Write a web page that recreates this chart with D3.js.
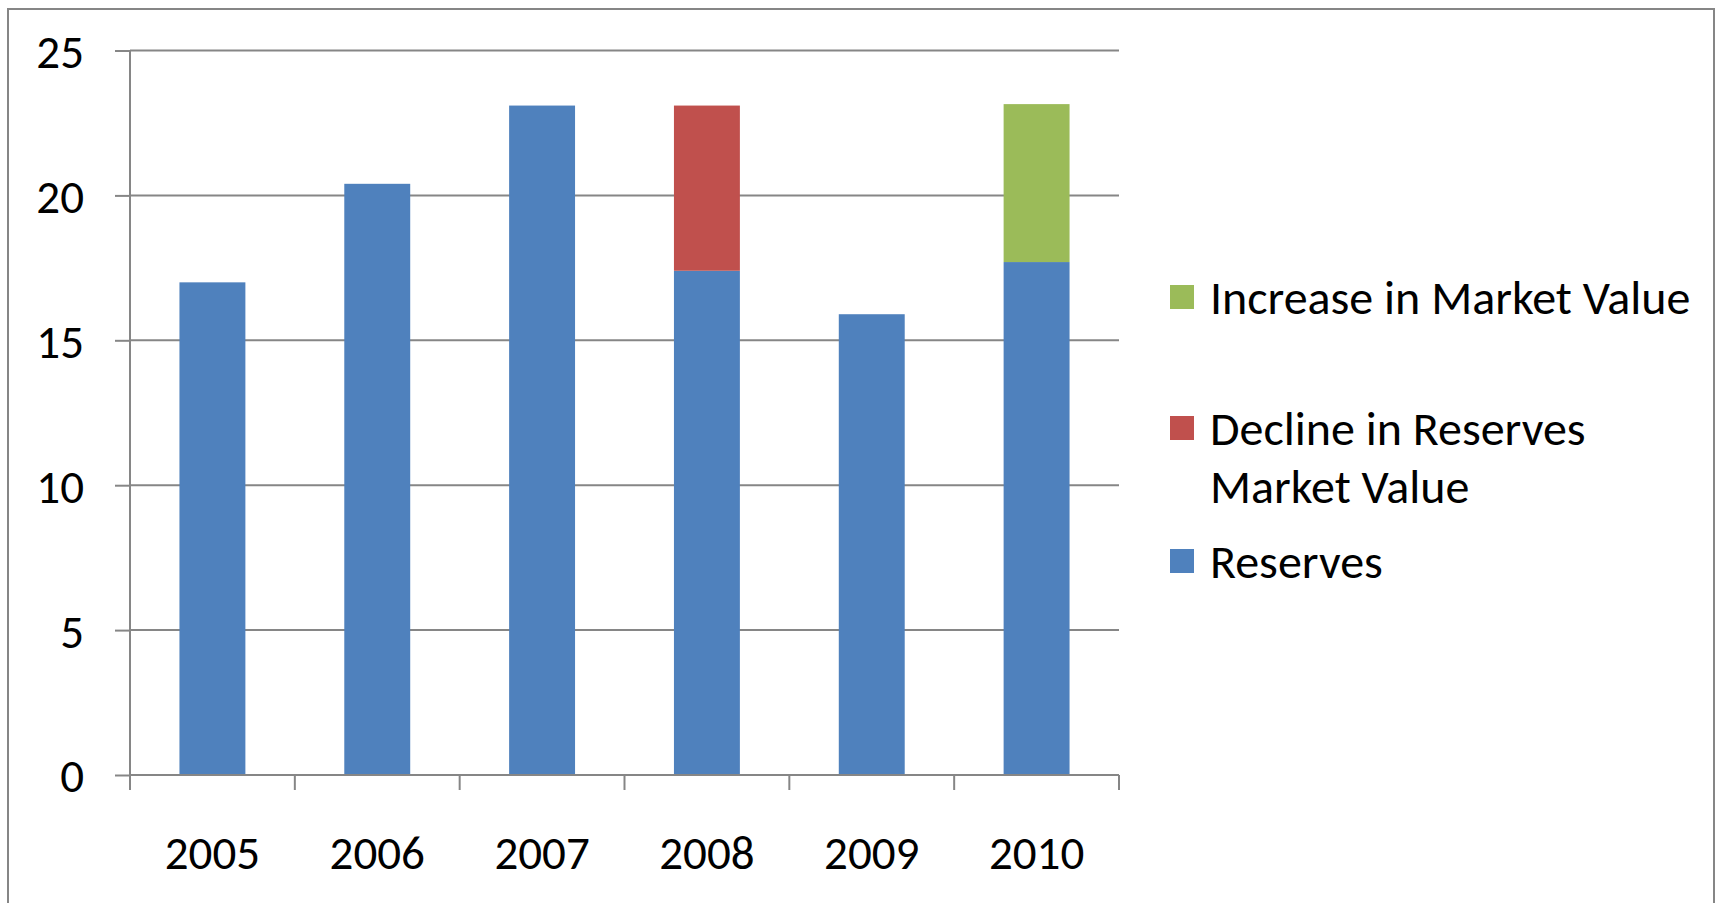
<!DOCTYPE html>
<html>
<head>
<meta charset="utf-8">
<script src="https://cdn.jsdelivr.net/npm/d3@7"></script>
<style>
  body { margin: 0; background: #fff; }
  svg { display: block; }
  text { font-family: Carlito, Calibri, Lato, sans-serif; fill: #000; }
</style>
</head>
<body>
<div id="vis"></div>
<script>
// values
var years = ["2005", "2006", "2007", "2008", "2009", "2010"];
var reserves = [17.0, 20.4, 23.1, 17.4, 15.9, 17.7];
var decline = [0, 0, 0, 5.7, 0, 0];
var increase = [0, 0, 0, 0, 0, 5.45];
var yTicks = [0, 5, 10, 15, 20, 25];

var keys = ["reserves", "decline", "increase"];
var colors = {reserves: "#4F81BD", decline: "#C0504D", increase: "#9BBB59"};
var legendItems = [
  {key: "increase", lines: ["Increase in Market Value"]},
  {key: "decline", lines: ["Decline in Reserves", "Market Value"]},
  {key: "reserves", lines: ["Reserves"]}
];

var W = 1718, H = 903;
var margin = {top: 50.5, left: 130, right: 599, bottom: 128};
var width = W - margin.left - margin.right,
    height = H - margin.top - margin.bottom;

var rows = years.map(function(y, i) {
  return {year: y, reserves: reserves[i], decline: decline[i], increase: increase[i]};
});
var series = d3.stack().keys(keys)(rows);

var svg = d3.select("#vis").append("svg")
    .attr("width", W)
    .attr("height", H);

// outer frame
svg.append("rect")
    .attr("x", 8).attr("y", 9)
    .attr("width", 1706).attr("height", 920)
    .attr("fill", "#fff")
    .attr("stroke", "#868686")
    .attr("stroke-width", 2);

var g = svg.append("g")
    .attr("transform", "translate(" + margin.left + "," + margin.top + ")");

var x = d3.scaleBand()
    .domain(years)
    .range([0, width])
    .paddingInner(0.6)
    .paddingOuter(0.3);

var y = d3.scaleLinear()
    .domain([0, 25])
    .range([height, 0]);

////////// grid //////////
g.append("g")
    .attr("class", "grid")
  .selectAll("line")
    .data(yTicks.filter(function(d) { return d > 0; }))
    .enter().append("line")
    .attr("x1", 0)
    .attr("x2", width)
    .attr("y1", function(d) { return y(d); })
    .attr("y2", function(d) { return y(d); })
    .attr("stroke", "#868686")
    .attr("stroke-width", 2);

////////// bars //////////
g.selectAll(".series")
    .data(series)
    .enter().append("g")
    .attr("class", "series")
    .attr("fill", function(d) { return colors[d.key]; })
  .selectAll("rect")
    .data(function(d) { return d.filter(function(p) { return p[1] - p[0] > 0; }); })
    .enter().append("rect")
    .attr("x", function(d) { return x(d.data.year); })
    .attr("width", x.bandwidth())
    .attr("y", function(d) { return y(d[1]); })
    .attr("height", function(d) { return y(d[0]) - y(d[1]); });

////////// axes //////////
var yAxis = g.append("g")
    .call(d3.axisLeft(y).tickValues(yTicks).tickSize(15).tickPadding(31));
yAxis.selectAll("line, path").attr("stroke", "#868686").attr("stroke-width", 2);
yAxis.select(".domain").attr("d", "M0," + y(0) + "V" + y(25));
yAxis.selectAll("text")
    .attr("font-size", 47)
    .attr("dy", "0.36em")
    .style("font-family", "Carlito, Calibri, Lato, sans-serif");

var xAxis = g.append("g")
    .attr("transform", "translate(0," + height + ")")
    .call(d3.axisBottom(x).tickSize(0).tickPadding(0));
xAxis.select(".domain").remove();
xAxis.selectAll("text")
    .attr("y", 77)
    .attr("dy", "0.36em")
    .attr("font-size", 47)
    .style("font-family", "Carlito, Calibri, Lato, sans-serif");

// baseline and category separators
var bounds = years.map(function(d) { return x(d) + x.bandwidth() / 2 - x.step() / 2; });
bounds.push(width);
xAxis.append("line")
    .attr("x1", 0).attr("x2", width)
    .attr("stroke", "#868686").attr("stroke-width", 2);
xAxis.selectAll(".sep")
    .data(bounds)
    .enter().append("line")
    .attr("class", "sep")
    .attr("x1", function(d) { return d; })
    .attr("x2", function(d) { return d; })
    .attr("y1", 0).attr("y2", 15)
    .attr("stroke", "#868686").attr("stroke-width", 2);

////////// legend //////////
var legendY = [297, 428, 561];
var legend = svg.append("g")
    .attr("class", "legend")
  .selectAll("g")
    .data(legendItems)
    .enter().append("g")
    .attr("transform", function(d, i) { return "translate(1170," + legendY[i] + ")"; });

legend.append("rect")
    .attr("x", 0).attr("y", -12)
    .attr("width", 24).attr("height", 24)
    .attr("fill", function(d) { return colors[d.key]; });

legend.append("text")
    .attr("x", 40)
    .attr("font-size", 48)
  .selectAll("tspan")
    .data(function(d) { return d.lines; })
    .enter().append("tspan")
    .attr("x", 40)
    .attr("y", function(d, i) { return i * 58; })
    .attr("dy", "0.36em")
    .text(function(d) { return d; });
</script>
</body>
</html>
